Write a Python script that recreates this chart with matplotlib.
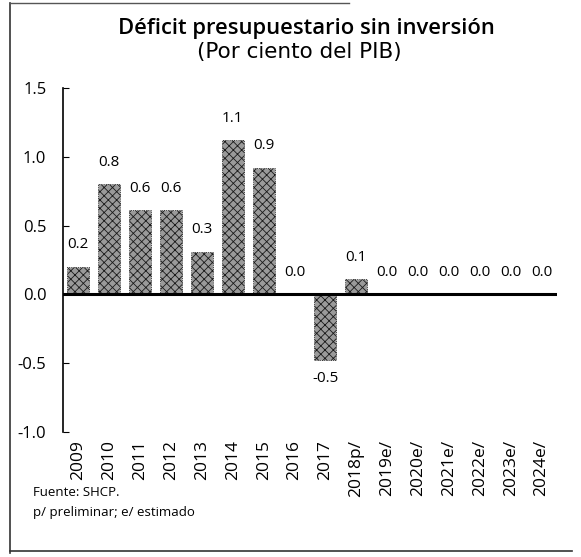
import matplotlib
matplotlib.use('Agg')
import matplotlib.pyplot as plt
from matplotlib.lines import Line2D
import numpy as np

plt.rcParams['font.family'] = ['Open Sans', 'DejaVu Sans']
plt.rcParams['hatch.linewidth'] = 0.6

# Déficit presupuestario sin inversión, por ciento del PIB
years = ['2009', '2010', '2011', '2012', '2013', '2014', '2015', '2016',
         '2017', '2018p/', '2019e/', '2020e/', '2021e/', '2022e/', '2023e/', '2024e/']
deficit = [0.20, 0.80, 0.61, 0.61, 0.31, 1.12, 0.92, 0.0,
           -0.48, 0.11, 0.0, 0.0, 0.0, 0.0, 0.0, 0.0]
yticks = [-1.0, -0.5, 0.0, 0.5, 1.0, 1.5]

fig = plt.figure(figsize=(5.81, 5.57), dpi=100)
ax = fig.add_axes([0.1084, 0.2244, 0.8503, 0.6176])

x = np.arange(len(years))
ax.bar(x, deficit, width=0.71, color='#9a9a9a', edgecolor='#1a1a1a',
       hatch='xxxx', linewidth=0.6, linestyle=':')
ax.axhline(0, color='black', linewidth=2.2)

for xi, v in zip(x, deficit):
    if v < 0:
        ax.annotate('{:.1f}'.format(v), (xi, v), xytext=(0, -13),
                    textcoords='offset points', ha='center', va='center',
                    fontsize=11)
    else:
        ax.annotate('{:.1f}'.format(v), (xi, v), xytext=(0, 16),
                    textcoords='offset points', ha='center', va='center',
                    fontsize=11)

ax.set_xlim(-0.5, 15.5)
ax.set_ylim(-1.0, 1.5)
ax.set_yticks(yticks)
ax.set_yticklabels(['{:.1f}'.format(t) for t in yticks])
ax.set_xticks(x)
ax.set_xticklabels(years, rotation=90)
ax.tick_params(axis='y', direction='in', length=4, pad=12, labelsize=12)
ax.tick_params(axis='x', length=0, pad=6, labelsize=12.5)

for s in ['top', 'right', 'bottom']:
    ax.spines[s].set_visible(False)
ax.spines['left'].set_linewidth(1.2)

fig.text(0.528, 0.949, 'Déficit presupuestario sin inversión',
         ha='center', va='center', fontsize=15.8, fontweight='semibold')
fig.text(0.515, 0.906, '(Por ciento del PIB)',
         ha='center', va='center', fontsize=15.5, family=['DejaVu Sans'])

fig.text(0.057, 0.115, 'Fuente: SHCP.', ha='left', va='center', fontsize=9.5)
fig.text(0.057, 0.079, 'p/ preliminar; e/ estimado', ha='left', va='center',
         fontsize=9.5)

# marco de la página
fig.add_artist(Line2D([0.017, 0.017], [0.007, 0.995], color='#333333', lw=1.2))
fig.add_artist(Line2D([0.017, 0.985], [0.011, 0.011], color='#333333', lw=1.2))
fig.add_artist(Line2D([0.017, 0.6], [0.995, 0.995], color='#555555', lw=1.0))

fig.savefig('out.png', dpi=100)
